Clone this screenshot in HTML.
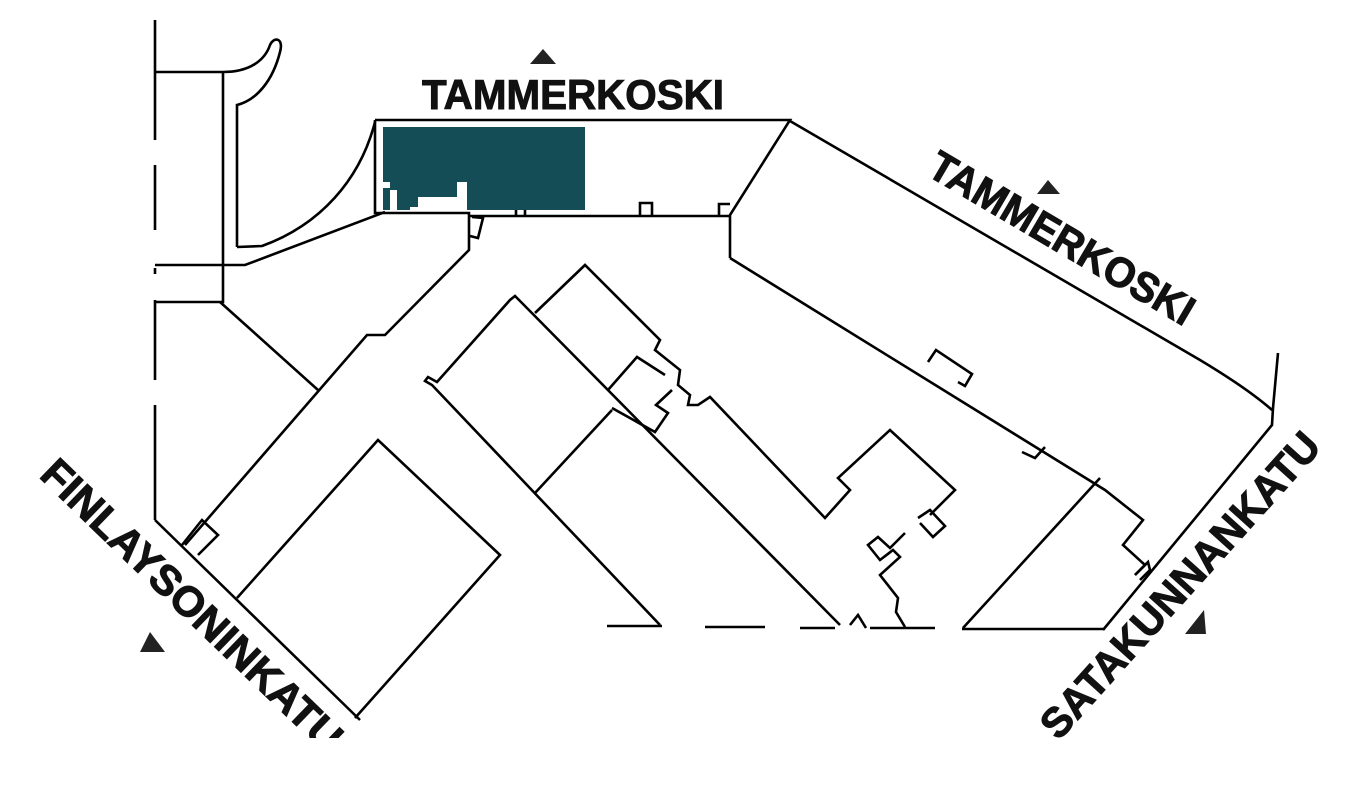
<!DOCTYPE html>
<html><head><meta charset="utf-8"><style>
html,body{margin:0;padding:0;background:#fff;width:1362px;height:793px;overflow:hidden}
svg{display:block}
text{font-family:"Liberation Sans",sans-serif;font-weight:bold;fill:#111;stroke:#111;stroke-width:1}
</style></head><body>
<svg width="1362" height="793" viewBox="0 0 1362 793" xmlns="http://www.w3.org/2000/svg">
<g fill="none" stroke="#000" stroke-width="2.6" stroke-linejoin="miter">
<path d="M155,20V140 M155,165V230 M155,268V274 M155,300V380 M155,405V520"/>
<path d="M155,72H223 C250,72 265,60 270,45 C274,36 284,38 280,52 C273,80 257,100 237,105 V247"/>
<path d="M223,72V302 H155"/>
<path d="M155,265H245 L385,212"/>
<path d="M237,247 L262,246 C320,225 360,180 375,122"/>
<path d="M375,120 H790 L730,215 V258"/>
<path d="M375,120 V213 H469 V250 L385,335 H367 L185,545"/>
<path d="M469,216 H730"/>
<path d="M472,217 L483,218 L478,238 L470,236"/>
<path d="M516,215 V205 H525 V215 M640,215 V203 H652 V215 M719,215 V204 H730"/>
<path d="M220,302 L318,390"/>
<path d="M155,520 L360,720"/>
<path d="M182,545 L202,520 L218,535 L198,555"/>
<path d="M237,598 L378,440 L500,555 L355,718"/>
<path d="M660,625 L432,385 L425,381 L428,377 L437,382 L510,300 L515,296 L521,302 L840,625"/>
<path d="M535,313 L585,265 L660,340 L655,350 L680,370 L678,385 L690,395 L688,405 L698,405 L710,397 L825,518 L850,490 L838,478 L890,430 L955,490 L930,515"/>
<path d="M535,493 L612,410"/>
<path d="M608,390 L637,357 L665,375"/>
<path d="M612,408 L655,432 L668,413 L656,405 L672,390"/>
<path d="M918,518 L930,510 L945,526 L933,537 L920,523"/>
<path d="M905,533 L890,548 L878,537 L868,545 L880,560 L893,550 L900,557 L880,575 L898,598 L896,612 L905,627"/>
<path d="M850,625 L858,615 L866,628"/>
<path d="M607,626 H662 M705,627 H765 M800,628 H835 M870,628 H935 M962,629 H1103"/>
<path d="M730,258 L1105,490 L1143,520 L1123,545 L1145,565 L1135,575"/>
<path d="M1135,575 L1148,562 L1150,570 L1140,580"/>
<path d="M963,628 L1100,478"/>
<path d="M1022,452 L1035,458 L1045,447"/>
<path d="M928,362 L936,350 L972,374 L965,386 L958,382"/>
<path d="M790,121 L1200,360 C1230,378 1255,395 1272,410"/>
<path d="M1278,353 L1273,408 L1272,425 L1103,630"/>
</g>
<path d="M383,127 H585 V210 H467 V182 H457 V197 H418 V207 H410 V210 H397 V190 H390 V210 H383 Z" fill="#144d55"/>
<rect x="383" y="182" width="7" height="6" fill="#fff"/>
<polygon points="530,64 556,64 543,49" fill="#222"/>
<polygon points="1037,194 1060,194 1048,180" fill="#222"/>
<polygon points="140,652 165,652 150,632" fill="#222"/>
<polygon points="1185,634 1206,634 1204,610" fill="#222"/>
<text x="422" y="109" font-size="42" textLength="302" lengthAdjust="spacingAndGlyphs">TAMMERKOSKI</text>
<text transform="translate(1062,238) rotate(30.5)" text-anchor="middle" dominant-baseline="central" font-size="42" textLength="300" lengthAdjust="spacingAndGlyphs">TAMMERKOSKI</text>
<text transform="translate(192,605) rotate(44)" text-anchor="middle" dominant-baseline="central" font-size="42" textLength="400" lengthAdjust="spacingAndGlyphs">FINLAYSONINKATU</text>
<text transform="translate(1180,585) rotate(-48)" text-anchor="middle" dominant-baseline="central" font-size="42" textLength="395" lengthAdjust="spacingAndGlyphs">SATAKUNNANKATU</text>
<rect x="0" y="738" width="1362" height="55" fill="#fff"/>
</svg>
</body></html>
